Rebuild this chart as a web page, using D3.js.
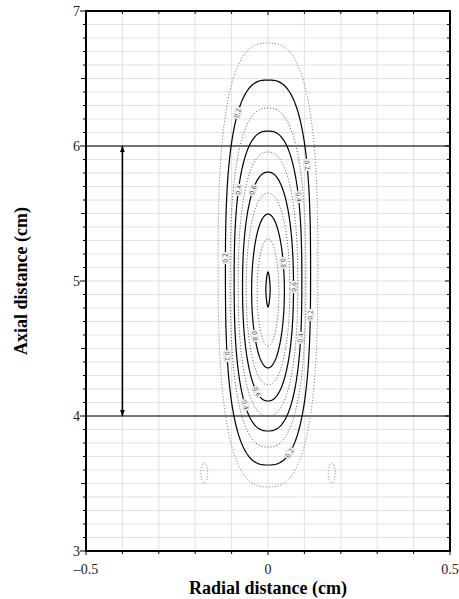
<!DOCTYPE html>
<html><head><meta charset="utf-8">
<script src="https://cdn.jsdelivr.net/npm/d3@7"></script>
<style>body{margin:0;background:#fff}svg{display:block}</style>
</head><body>
<svg id="chart" width="459" height="599"></svg>
<script>
// ---- data ----
const xDomain = [-0.5, 0.5];
const yDomain = [3, 7];
const xTickLabels = [-0.5, 0, 0.5];
const yTickLabels = [3, 4, 5, 6, 7];
const refLines = [4, 6];
const arrowX = -0.4;
const arrowY = [4, 6];
// contour rings (level, top y, bottom y, half width, squareness exponent)
const ringLevels   = [0.1, 0.2, 0.3, 0.4, 0.5, 0.6, 0.7, 0.8, 0.9, 1.0];
const ringTop      = [6.763, 6.489, 6.281, 6.111, 5.956, 5.807, 5.652, 5.496, 5.311, 5.067];
const ringBottom   = [3.474, 3.637, 3.770, 3.889, 4.000, 4.111, 4.230, 4.356, 4.519, 4.807];
const ringHalfW    = [0.137, 0.117, 0.104, 0.093, 0.082, 0.070, 0.060, 0.045, 0.030, 0.006];
const ringShape    = [2.7, 2.7, 2.5, 2.5, 2.3, 2.2, 2.1, 2.0, 2.0, 1.6];
// small side islands of the 0.1 contour
const islandX = [-0.175, 0.175];
const islandY = [3.578, 3.578];
const islandHalfW = 0.0096;
const islandHalfH = 0.074;
// contour labels: level, side, y position
const labelLevel = [0.2, 0.2, 0.4, 0.6, 0.4, 0.2, 0.8, 0.6, 0.2, 0.4, 0.8, 0.2, 0.6, 0.4, 0.2];
const labelSide  = [-1, 1, -1, -1, 1, -1, 1, 1, 1, 1, -1, -1, -1, -1, 1];
const labelY     = [6.244, 5.859, 5.674, 5.674, 5.622, 5.170, 5.133, 4.956, 4.748, 4.578, 4.593, 4.444, 4.178, 4.081, 3.726];

// ---- layout ----
const svg = d3.select("#chart");
const L = 86, R = 450, T = 11, B = 551;
const x = d3.scaleLinear().domain(xDomain).range([L, R]);
const y = d3.scaleLinear().domain(yDomain).range([B, T]);
const serif = "'Liberation Serif','Times New Roman',serif";

// grid
const gx = d3.range(-0.4, 0.45, 0.1);
const gy = d3.range(3.1, 6.95, 0.1);
svg.append("g").selectAll("line").data(gx).join("line")
  .attr("x1", d => x(d)).attr("x2", d => x(d)).attr("y1", T).attr("y2", B)
  .attr("stroke", "#e2e2e2").attr("stroke-width", 1);
svg.append("g").selectAll("line").data(gy).join("line")
  .attr("y1", d => y(d)).attr("y2", d => y(d)).attr("x1", L).attr("x2", R)
  .attr("stroke", "#e2e2e2").attr("stroke-width", 1);

// reference lines
svg.append("g").selectAll("line").data(refLines).join("line")
  .attr("x1", L).attr("x2", R).attr("y1", d => y(d)).attr("y2", d => y(d))
  .attr("stroke", "#4a4a4a").attr("stroke-width", 1.4);

// ring geometry
function ringPath(i) {
  const mid = (ringTop[i] + ringBottom[i]) / 2;
  const n = ringShape[i];
  const pts = d3.range(0, 360, 2).map(a => {
    const t = a * Math.PI / 180;
    const c = Math.cos(t), s = Math.sin(t);
    const px = ringHalfW[i] * Math.sign(c) * Math.pow(Math.abs(c), 2 / n);
    const b = s > 0 ? ringTop[i] - mid : mid - ringBottom[i];
    const py = mid + b * Math.sign(s) * Math.pow(Math.abs(s), 2 / n);
    return [x(px), y(py)];
  });
  return d3.line().curve(d3.curveLinearClosed)(pts);
}
function ringX(i, side, yy) {
  const mid = (ringTop[i] + ringBottom[i]) / 2;
  const n = ringShape[i];
  const b = yy > mid ? ringTop[i] - mid : mid - ringBottom[i];
  const u = Math.min(1, Math.abs(yy - mid) / b);
  return side * ringHalfW[i] * Math.pow(Math.max(0, 1 - Math.pow(u, n)), 1 / n);
}

const isSolid = i => Math.round(ringLevels[i] * 10) % 2 === 0;
const rings = svg.append("g").attr("fill", "none");
ringLevels.forEach((lv, i) => {
  rings.append("path").attr("d", ringPath(i))
    .attr("stroke", isSolid(i) ? "#000" : (i === 0 ? "#8a8a8a" : "#6a6a6a"))
    .attr("stroke-width", isSolid(i) ? 1.2 : 1)
    .attr("stroke-dasharray", isSolid(i) ? null : "1.2,1.8");
});
// islands
rings.selectAll("ellipse").data(islandX).join("ellipse")
  .attr("cx", d => x(d)).attr("cy", (d, k) => y(islandY[k]))
  .attr("rx", x(islandHalfW) - x(0)).attr("ry", y(0) - y(islandHalfH))
  .attr("stroke", "#8a8a8a").attr("stroke-width", 1).attr("stroke-dasharray", "1.2,1.8");

// contour labels
const lab = svg.append("g");
labelLevel.forEach((lv, k) => {
  const i = ringLevels.findIndex(v => Math.abs(v - lv) < 1e-6);
  const yy = labelY[k];
  const px = x(ringX(i, labelSide[k], yy)), py = y(yy);
  const d = 0.01;
  const x1 = x(ringX(i, labelSide[k], yy + d)), y1 = y(yy + d);
  const x2 = x(ringX(i, labelSide[k], yy - d)), y2 = y(yy - d);
  let ang = Math.atan2(y2 - y1, x2 - x1) * 180 / Math.PI;
  if (ang > 90) ang -= 180;
  if (ang < -90) ang += 180;
  const g = lab.append("g").attr("transform", `translate(${px},${py}) rotate(${ang})`);
  g.append("rect").attr("x", -6).attr("y", -3.2).attr("width", 12).attr("height", 6.4)
    .attr("rx", 3).attr("fill", "#fff").attr("stroke", "#bbb").attr("stroke-width", 0.5);
  g.append("text").text(lv.toFixed(1))
    .attr("text-anchor", "middle").attr("dy", "0.35em")
    .attr("font-family", "'DejaVu Sans',sans-serif").attr("font-size", 6)
    .attr("fill", "#444");
});

// double arrow
const defs = svg.append("defs");
defs.append("marker").attr("id", "ah").attr("viewBox", "0 0 10 10")
  .attr("refX", 10).attr("refY", 5).attr("markerWidth", 6).attr("markerHeight", 6)
  .attr("markerUnits", "userSpaceOnUse").attr("orient", "auto-start-reverse")
  .append("path").attr("d", "M0,1 L10,5 L0,9 Z").attr("fill", "#000");
svg.append("line")
  .attr("x1", x(arrowX)).attr("x2", x(arrowX))
  .attr("y1", y(arrowY[0])).attr("y2", y(arrowY[1]))
  .attr("stroke", "#000").attr("stroke-width", 1.6)
  .attr("marker-start", "url(#ah)").attr("marker-end", "url(#ah)");

// axes ticks
const ax = svg.append("g").attr("stroke", "#000").attr("stroke-width", 1);
const minorX = d3.range(-0.5, 0.501, 0.1);
const minorY = d3.range(3, 7.001, 0.1);
const isMajor = v => Math.abs(v - Math.round(v * 2) / 2) < 1e-6;
const isInt = v => Math.abs(v - Math.round(v)) < 1e-6;
// bottom (outward)
ax.selectAll(".tb").data(minorX).join("line").attr("class", "tb")
  .attr("x1", d => x(d)).attr("x2", d => x(d)).attr("y1", B).attr("y2", d => B + (isMajor(d) ? 4 : 3));
// top (inward)
ax.selectAll(".tt").data(minorX).join("line").attr("class", "tt")
  .attr("x1", d => x(d)).attr("x2", d => x(d)).attr("y1", T).attr("y2", d => T + (isMajor(d) ? 4 : 3));
// left (outward)
ax.selectAll(".tl").data(minorY).join("line").attr("class", "tl")
  .attr("y1", d => y(d)).attr("y2", d => y(d)).attr("x1", L).attr("x2", d => L - (isInt(d) ? 6 : isMajor(d) ? 5 : 3));
// right (inward)
ax.selectAll(".tr").data(minorY).join("line").attr("class", "tr")
  .attr("y1", d => y(d)).attr("y2", d => y(d)).attr("x1", R).attr("x2", d => R - (isInt(d) ? 5 : isMajor(d) ? 4 : 3));

// frame
svg.append("rect").attr("x", L).attr("y", T).attr("width", R - L).attr("height", B - T)
  .attr("fill", "none").attr("stroke", "#000").attr("stroke-width", 2);

// tick labels
svg.append("g").selectAll("text").data(xTickLabels).join("text")
  .attr("x", d => x(d)).attr("y", 574).attr("text-anchor", "middle")
  .attr("font-family", serif).attr("font-size", 14).attr("fill", "#222")
  .text(d => d < 0 ? "\u2013" + Math.abs(d) : String(d));
svg.append("g").selectAll("text").data(yTickLabels).join("text")
  .attr("x", 80).attr("y", d => y(d)).attr("dy", "0.35em").attr("text-anchor", "end")
  .attr("font-family", serif).attr("font-size", 14).attr("fill", "#222")
  .text(d => String(d));

// axis titles
svg.append("text").attr("x", (L + R) / 2).attr("y", 594).attr("text-anchor", "middle")
  .attr("font-family", serif).attr("font-size", 18).attr("font-weight", "bold")
  .text("Radial distance (cm)");
svg.append("text").attr("transform", `translate(27,${(T + B) / 2}) rotate(-90)`)
  .attr("text-anchor", "middle")
  .attr("font-family", serif).attr("font-size", 18).attr("font-weight", "bold")
  .text("Axial distance (cm)");
</script>
</body></html>
